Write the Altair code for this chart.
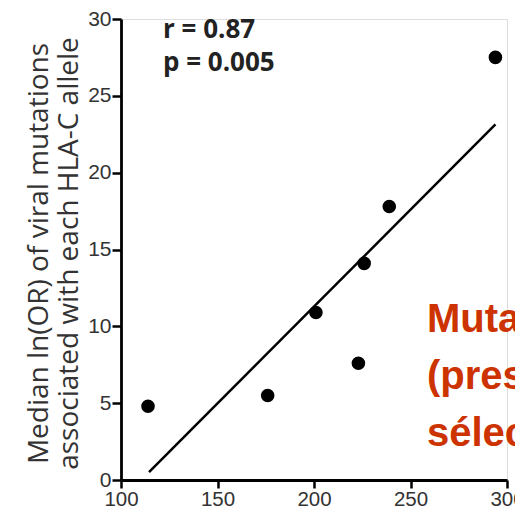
import altair as alt
import pandas as pd

# Data
hla_x = [114, 176, 201, 223, 226, 239, 294]
ln_or = [4.8, 5.5, 10.9, 7.6, 14.1, 17.8, 27.5]
x_ticks = [100, 150, 200, 250, 300]
y_ticks = [0, 5, 10, 15, 20, 25, 30]
stats_text = "r = 0.87\np = 0.005"
red_text = "Mutations\n(pression de\nsélection)"
y_title = ["Median ln(OR) of viral mutations", "associated with each HLA-C allele"]

df = pd.DataFrame({"x": hla_x, "y": ln_or})

xs = alt.Scale(domain=[100, 300], nice=False)
ys = alt.Scale(domain=[0, 30], nice=False)

x_axis = alt.Axis(values=x_ticks, title=None, grid=False, labelFontSize=20.5,
                  labelFont="Liberation Sans", labelColor="#333", labelPadding=1,
                  labelFlush=False, domainColor="black", domainWidth=2.8,
                  tickColor="black", tickWidth=2.5, tickSize=8)
y_axis = alt.Axis(values=y_ticks, title=y_title, grid=False, labelFontSize=21,
                  labelFont="Liberation Sans", labelColor="#333", labelPadding=1,
                  labelFlush=False, domainColor="black", domainWidth=2.8,
                  tickColor="black", tickWidth=2.5, tickSize=9,
                  titleFont="Open Sans", titleFontSize=28, titleFontWeight="normal",
                  titleColor="#333", titlePadding=4, titleLineHeight=30, titleY=234)

base = alt.Chart(df)

points = base.mark_circle(size=185, color="black", opacity=1).encode(
    x=alt.X("x:Q", scale=xs, axis=x_axis),
    y=alt.Y("y:Q", scale=ys, axis=y_axis),
)

fit = base.transform_regression("x", "y", extent=[114.5, 294]).mark_line(
    color="black", strokeWidth=2.5
).encode(x=alt.X("x:Q", scale=xs), y=alt.Y("y:Q", scale=ys))

stats = alt.Chart(pd.DataFrame({"t": [stats_text]})).mark_text(
    align="left", baseline="top", font="Open Sans", fontSize=26,
    fontWeight="bold", color="#222", lineBreak="\n", lineHeight=33
).encode(text="t:N", x=alt.value(42), y=alt.value(-2))

red = alt.Chart(pd.DataFrame({"t": [red_text]})).mark_text(
    align="left", baseline="alphabetic", font="Liberation Sans", fontSize=40,
    fontWeight="bold", color="#cc3300", lineBreak="\n", lineHeight=57
).encode(text="t:N", x=alt.value(306), y=alt.value(313))

chart = alt.layer(fit, points, stats, red).properties(
    width=386, height=461,
    autosize=alt.AutoSizeParams(type="none"),
    padding={"left": 113, "top": 11, "right": 8, "bottom": 29},
).configure_view(stroke=None).configure(background="white")

chart.save("out.html", embed_options={"renderer": "svg", "actions": False})
